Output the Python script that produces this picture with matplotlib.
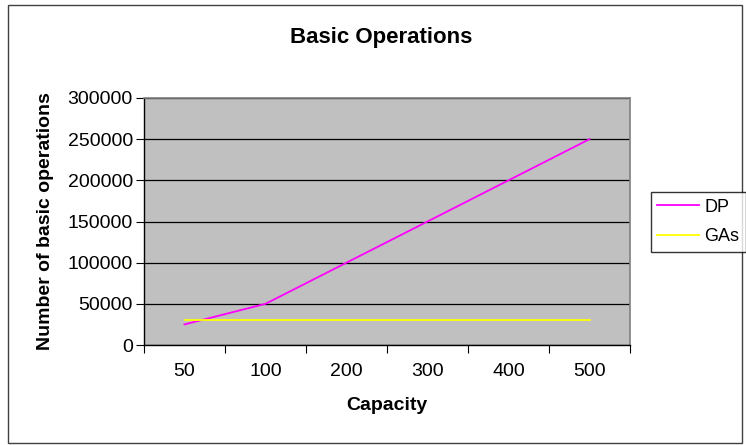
import matplotlib.pyplot as plt
from matplotlib.patches import Rectangle

plt.rcParams['font.family'] = ['Liberation Sans', 'DejaVu Sans']

# data
capacity = ['50', '100', '200', '300', '400', '500']
dp_ops = [25000, 50000, 100000, 150000, 200000, 250000]
gas_ops = [30000, 30000, 30000, 30000, 30000, 30000]

fig = plt.figure(figsize=(7.46, 4.45), dpi=100)
W, H = 746, 445
ax = fig.add_axes([144 / W, 1 - 345 / H, (630 - 144) / W, (345 - 98) / H])

x = range(len(capacity))
ax.plot(x, dp_ops, color='#FF00FF', lw=1.3, label='DP')
ax.plot(x, gas_ops, color='#FFFF00', lw=1.3, label='GAs')

ax.set_facecolor('#C0C0C0')
ax.set_xlim(-0.5, len(capacity) - 0.5)
ax.set_ylim(0, 300000)
ax.set_yticks(range(0, 300001, 50000))
ax.grid(axis='y', color='black', lw=0.9)
ax.set_axisbelow(True)

# category ticks sit between the labels, Excel style
ax.set_xticks([i - 0.5 for i in range(len(capacity) + 1)])
ax.set_xticklabels([])
ax.set_xticks(list(x), minor=True)
ax.set_xticklabels(capacity, minor=True, fontsize=14)
ax.tick_params(axis='x', which='minor', length=0, pad=13)
ax.tick_params(axis='x', which='major', length=6, direction='out', color='black')
ax.tick_params(axis='y', length=6, direction='out', labelsize=14, pad=2)

for s in ['top', 'right']:
    ax.spines[s].set_color('#808080')
    ax.spines[s].set_linewidth(1.2)
for s in ['left', 'bottom']:
    ax.spines[s].set_color('black')
    ax.spines[s].set_linewidth(1)

ax.set_xlabel('Capacity', fontsize=14, fontweight='bold', labelpad=12)
ax.set_ylabel('Number of basic operations', fontsize=14, fontweight='bold', labelpad=10)
fig.text(381 / W, 1 - 37 / H, 'Basic Operations', ha='center', va='center',
         fontsize=16, fontweight='bold')

leg = fig.legend(loc='center left', bbox_to_anchor=(651 / W, 1 - 222 / H),
                 frameon=True, fancybox=False, fontsize=13, handlelength=2.3,
                 borderpad=0.35, labelspacing=0.7, handletextpad=0.3,
                 borderaxespad=0)
leg.get_frame().set_edgecolor('black')
leg.get_frame().set_linewidth(1)

# outer chart border
fig.patches.append(Rectangle((8 / W, 2 / H), (742 - 8) / W, (440 - 2) / H,
                             transform=fig.transFigure, fill=False,
                             edgecolor='#404040', lw=1))

fig.savefig('out.png', dpi=100)
